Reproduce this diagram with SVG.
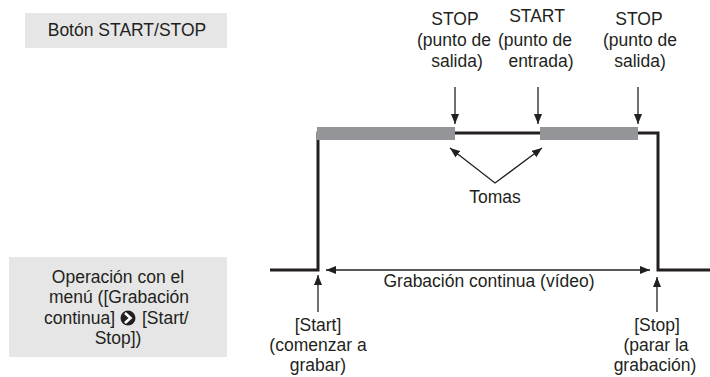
<svg xmlns="http://www.w3.org/2000/svg" width="710" height="377" viewBox="0 0 710 377">
<style>
text{font-family:"Liberation Sans",Arial,sans-serif;font-size:17.5px;fill:#231f20;text-anchor:middle}
.box{fill:#e6e6e6}
.bar{fill:#939598}
.thick{fill:none;stroke:#231f20;stroke-width:3}
.thin{fill:none;stroke:#231f20;stroke-width:1.3}
</style>
<defs>
<marker id="ah" viewBox="0 0 10 8" refX="10" refY="4" markerWidth="10" markerHeight="8" markerUnits="userSpaceOnUse" orient="auto-start-reverse">
<path d="M0,0 L10,4 L0,8 Z" fill="#231f20"/>
</marker>
</defs>
<g id="label-button">
<rect class="box" x="25" y="13" width="202" height="35"/>
<text x="127" y="36">Botón START/STOP</text>
</g>
<g id="label-menu">
<rect class="box" x="9" y="257" width="218" height="100"/>
<text x="118" y="283">Operación con el</text>
<text x="119" y="303">menú ([Grabación</text>
<text x="44" y="324" style="text-anchor:start">continua]</text>
<circle cx="128" cy="318" r="7.5" fill="#231f20"/>
<path d="M125,313 L130.5,318 L125,323" fill="none" stroke="#fff" stroke-width="2.6"/>
<text x="142" y="324" style="text-anchor:start">[Start/</text>
<text x="118" y="344">Stop])</text>
</g>
<g id="signal">
<path class="thick" d="M270,270 H318 V133 H658 V270 H710"/>
<rect class="bar" x="317" y="127" width="138" height="13"/>
<rect class="bar" x="540" y="127" width="98" height="13"/>
</g>
<g id="label-stop1">
<text x="455" y="25">STOP</text>
<text x="454" y="46">(punto de</text>
<text x="457" y="67">salida)</text>
</g>
<g id="label-start">
<text x="537" y="22">START</text>
<text x="535" y="46">(punto de</text>
<text x="541" y="67">entrada)</text>
</g>
<g id="label-stop2">
<text x="639" y="25">STOP</text>
<text x="640" y="46">(punto de</text>
<text x="640" y="67">salida)</text>
</g>
<g id="label-tomas">
<text x="495" y="203">Tomas</text>
</g>
<g id="label-continua">
<text x="489" y="287">Grabación continua (vídeo)</text>
</g>
<g id="label-start-menu">
<text x="318" y="331">[Start]</text>
<text x="318" y="351">(comenzar a</text>
<text x="318" y="371">grabar)</text>
</g>
<g id="label-stop-menu">
<text x="657" y="331">[Stop]</text>
<text x="656" y="351">(parar la</text>
<text x="655" y="371">grabación)</text>
</g>
<g id="connectors">
<line class="thin" x1="455" y1="87" x2="455" y2="124" marker-end="url(#ah)"/>
<line class="thin" x1="538" y1="87" x2="538" y2="124" marker-end="url(#ah)"/>
<line class="thin" x1="638" y1="87" x2="638" y2="124" marker-end="url(#ah)"/>
<path class="thin" d="M450,148 L495,183 L542,148" marker-start="url(#ah)" marker-end="url(#ah)"/>
<line class="thin" x1="326" y1="270" x2="650" y2="270" marker-start="url(#ah)" marker-end="url(#ah)"/>
<line class="thin" x1="318" y1="312" x2="318" y2="275" marker-end="url(#ah)"/>
<line class="thin" x1="657" y1="312" x2="657" y2="277" marker-end="url(#ah)"/>
</g>
</svg>
